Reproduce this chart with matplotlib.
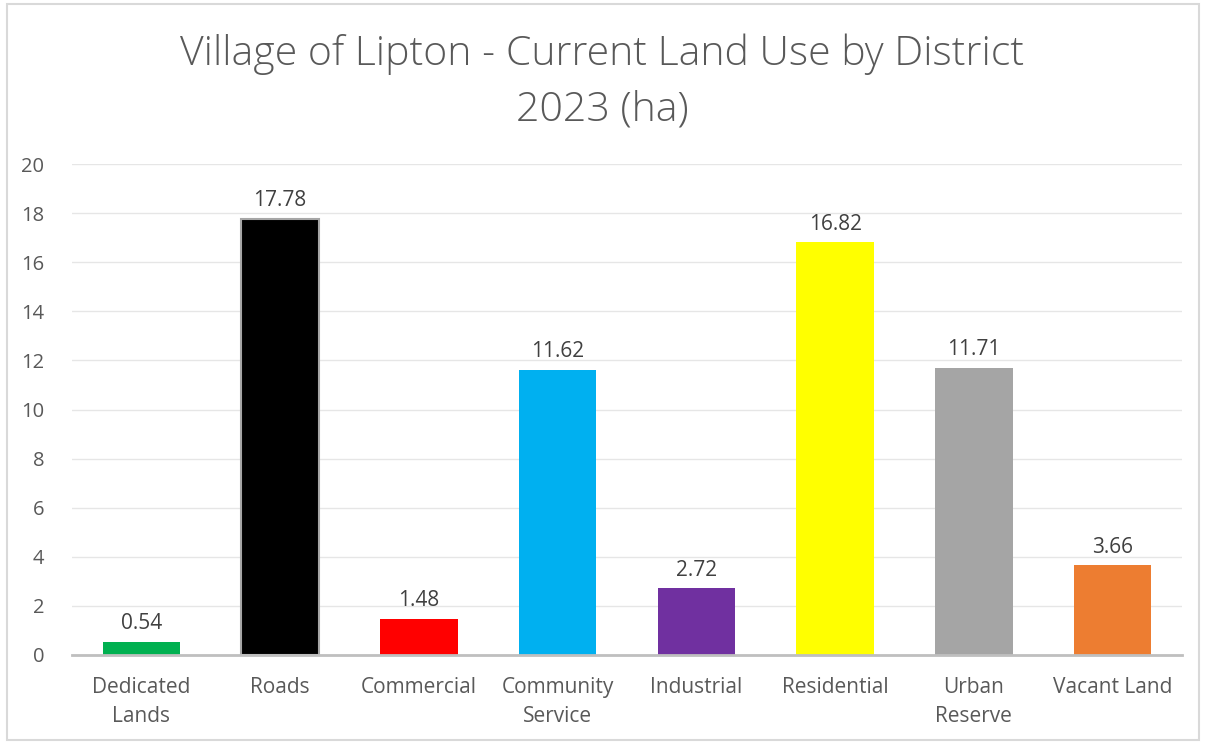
import matplotlib.pyplot as plt
from matplotlib.patches import Rectangle

categories = ["Dedicated\nLands", "Roads", "Commercial", "Community\nService",
              "Industrial", "Residential", "Urban\nReserve", "Vacant Land"]
values = [0.54, 17.78, 1.48, 11.62, 2.72, 16.82, 11.71, 3.66]
colors = ["#00B050", "#000000", "#FF0000", "#00B0F0", "#7030A0", "#FFFF00", "#A5A5A5", "#ED7D31"]
yticks = [0, 2, 4, 6, 8, 10, 12, 14, 16, 18, 20]
title = "Village of Lipton - Current Land Use by District\n2023 (ha)"

plt.rcParams['font.family'] = ['Open Sans', 'DejaVu Sans']
txt = "#595959"

fig = plt.figure(figsize=(12.05, 7.42), dpi=100)
ax = fig.add_axes([72/1205, 1-655/742, (1182-72)/1205, (655-164)/742])

x = list(range(len(categories)))
bars = ax.bar(x, values, width=0.56, color=colors, zorder=3)
bars[1].set_edgecolor("#A6A6A6")
bars[1].set_linewidth(1.5)

for xi, v in zip(x, values):
    ax.text(xi, v + 0.3, f"{v:.2f}", ha='center', va='bottom', fontsize=15, color="#404040")

ax.set_xlim(-0.5, len(categories) - 0.5)
ax.set_ylim(0, 20)
ax.set_yticks(yticks)
ax.set_yticklabels([str(t) for t in yticks], fontsize=14.5, color=txt)
ax.set_xticks(x)
ax.set_xticklabels(categories, fontsize=15, color=txt, linespacing=1.5)
ax.tick_params(axis='both', length=0)
ax.tick_params(axis='y', pad=20)
ax.tick_params(axis='x', pad=16)
ax.grid(axis='y', color="#E6E6E6", linewidth=1, zorder=0)
for s in ['top', 'right', 'left']:
    ax.spines[s].set_visible(False)
ax.spines['bottom'].set_color("#BFBFBF")
ax.spines['bottom'].set_linewidth(2)
ax.spines['bottom'].set_zorder(4)

fig.text(0.5, 1 - 82/742, title, ha='center', va='center', fontsize=29.5,
         color=txt, fontweight='light', linespacing=1.45)

fig.patches.append(Rectangle((7/1205, 2/742), 1192/1205, 736/742, transform=fig.transFigure,
                             fill=False, edgecolor="#D9D9D9", linewidth=1.5))

fig.savefig("out.png", dpi=100)
